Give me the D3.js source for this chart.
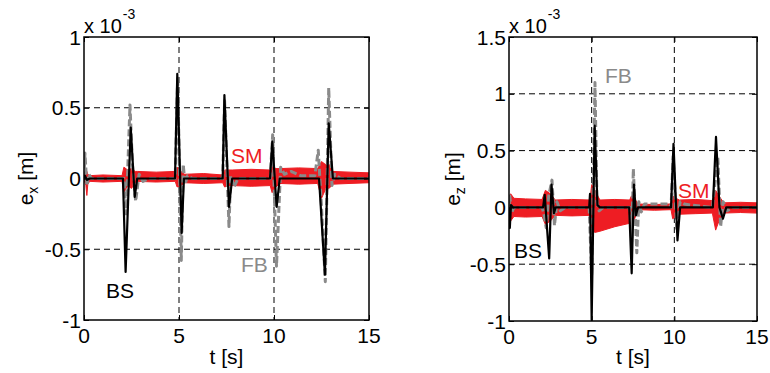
<!DOCTYPE html>
<html>
<head>
<meta charset="utf-8">
<script src="https://cdn.jsdelivr.net/npm/d3@7/dist/d3.min.js"></script>
<style>
  html, body { margin: 0; padding: 0; background: #fff; }
  svg { display: block; font-family: "Liberation Sans", Arial, Helvetica, sans-serif; }
</style>
</head>
<body>
<svg id="chart" width="770" height="373"></svg>
<script>
// Tracking error (x 10^-3 m) of three controllers: BS, FB and SM.

// ---- e_x panel ----
const tBSx = [0, 0.05, 0.15, 0.3, 2.05, 2.19, 2.46, 2.67, 2.8, 4.79, 4.91, 5.14, 5.26, 7.3, 7.39, 7.63, 7.8, 9.79, 9.91, 10.14, 10.3, 12.37, 12.68, 12.88, 13.1, 15];
const vBSx = [0, 0.02, -0.01, 0, 0, -0.66, 0.36, -0.13, 0, 0, 0.74, -0.385, 0, 0, 0.59, -0.2, 0, 0, 0.26, -0.2, 0, 0, -0.68, 0.39, 0, 0];

const tFBx = [0, 0.05, 0.15, 0.25, 0.4, 2.1, 2.22, 2.42, 2.55, 2.72, 2.9, 3.1, 3.4, 4.8, 4.93, 5.12, 5.22, 5.32, 5.45, 5.7, 7.3, 7.4, 7.63, 7.72, 7.9, 8.1, 9.8, 9.93, 10.13, 10.35, 10.55, 10.9, 11.4, 12.15, 12.33, 12.5, 12.7, 12.88, 13.05, 13.2, 13.5, 15];
const vFBx = [0, 0.18, -0.05, 0.03, 0, 0, -0.25, 0.52, 0.1, -0.16, 0.03, -0.02, 0, 0, 0.72, -0.58, 0.1, -0.04, 0.02, 0, 0, 0.55, -0.34, 0.02, -0.06, 0, 0, 0.31, -0.62, 0.08, 0.03, 0.05, 0.02, 0.02, 0.2, -0.2, -0.73, 0.64, -0.05, 0.03, 0, 0];

const tSMx  = [0, 0.1, 0.15, 0.2, 0.3, 1.0, 2.0, 2.1, 2.3, 2.5, 2.7, 2.8, 3.8, 4.8, 4.9, 5.1, 5.3, 6.3, 7.3, 7.4, 7.6, 7.8, 8.8, 9.8, 9.9, 10.1, 10.3, 11.3, 12.3, 12.5, 12.7, 12.9, 13.1, 14.0, 15];
const hiSMx = [0.01, 0.06, 0.05, 0.03, 0.02, 0.025, 0.02, 0.08, 0.06, 0.07, 0.05, 0.05, 0.045, 0.05, 0.08, 0.05, 0.03, 0.035, 0.025, 0.06, 0.06, 0.06, 0.065, 0.06, 0.09, 0.07, 0.07, 0.075, 0.07, 0.12, 0.1, 0.1, 0.05, 0.045, 0.04];
const loSMx = [-0.01, -0.05, -0.12, -0.04, -0.02, -0.025, -0.02, -0.1, -0.05, -0.07, -0.03, -0.02, -0.025, -0.02, -0.06, -0.05, -0.03, -0.035, -0.03, -0.06, -0.05, -0.05, -0.055, -0.05, -0.1, -0.06, -0.035, -0.04, -0.035, -0.14, -0.08, -0.07, -0.04, -0.035, -0.03];

// ---- e_z panel ----
const tBSz = [0, 0.05, 0.12, 0.25, 2.06, 2.16, 2.43, 2.57, 2.72, 2.82, 4.85, 4.9, 5.0, 5.18, 5.35, 5.5, 7.27, 7.42, 7.56, 7.68, 7.8, 9.8, 9.95, 10.19, 10.35, 12.33, 12.52, 12.62, 12.73, 12.94, 13.14, 15];
const vBSz = [0, -0.18, 0.02, 0, 0, 0.11, -0.45, 0.2, -0.05, 0, 0, 0.12, -0.99, 0.72, 0.02, 0, 0, -0.58, 0.2, -0.07, 0, 0, 0.56, -0.29, 0, 0, 0.62, 0.33, 0.0, -0.1, 0, 0];

const tFBz = [0, 0.05, 0.15, 0.3, 2.0, 2.1, 2.25, 2.4, 2.6, 2.75, 2.9, 3.1, 3.4, 4.85, 5.0, 5.2, 5.32, 5.45, 5.7, 7.3, 7.42, 7.52, 7.73, 7.85, 8.0, 8.2, 9.7, 9.8, 9.93, 10.15, 10.35, 10.6, 11.0, 12.3, 12.45, 12.63, 12.8, 12.95, 13.2, 13.5, 15];
const vFBz = [0, 0.1, -0.05, 0, 0, -0.05, -0.18, 0.1, 0.24, -0.16, 0.05, -0.03, 0, 0, -0.6, 1.1, 0.05, -0.03, 0, 0, -0.3, 0.34, -0.4, 0.05, -0.04, 0.03, 0.03, 0, 0.45, -0.2, 0.05, 0.03, 0.02, 0, 0.2, 0.44, -0.17, 0.05, -0.03, 0, 0];

const tSMz  = [0, 0.1, 0.3, 1.0, 2.0, 2.2, 2.5, 2.8, 3.8, 4.9, 5.0, 5.2, 5.5, 6.4, 7.3, 7.4, 7.6, 7.8, 8.8, 9.8, 9.9, 10.1, 10.3, 11.3, 12.3, 12.5, 12.7, 13.0, 14.0, 15];
const hiSMz = [0.08, 0.12, 0.08, 0.075, 0.07, 0.15, 0.12, 0.065, 0.07, 0.065, 0.2, 0.15, 0.065, 0.07, 0.065, 0.1, 0.08, 0.03, 0.025, 0.03, 0.1, 0.08, 0.065, 0.07, 0.06, 0.15, 0.1, 0.04, 0.045, 0.04];
const loSMz = [-0.08, -0.12, -0.08, -0.085, -0.08, -0.15, -0.12, -0.07, -0.075, -0.07, -0.2, -0.22, -0.21, -0.17, -0.14, -0.15, -0.1, -0.02, -0.025, -0.02, -0.1, -0.08, -0.06, -0.055, -0.05, -0.2, -0.12, -0.05, -0.045, -0.05];

// Axis ticks
const xTicks  = [0, 5, 10, 15];
const yTicksX = [-1, -0.5, 0, 0.5, 1];
const yTicksZ = [-1, -0.5, 0, 0.5, 1, 1.5];
const yTickLabelsX = ["-1", "-0.5", "0", "0.5", "1"];
const yTickLabelsZ = ["-1", "-0.5", "0", "0.5", "1", "1.5"];

const RED = "#ee1d23", GRAY = "#8a8a8a", FS = 21;
const svg = d3.select("#chart");

function panel(p) {
  const x = d3.scaleLinear().domain([0, 15]).range([p.left, p.right]);
  const y = d3.scaleLinear().domain(p.ydom).range([p.bottom, p.top]);
  const g = svg.append("g");

  // clip to the axes box
  const cid = "clip-" + p.id;
  svg.append("clipPath").attr("id", cid).append("rect")
    .attr("x", p.left).attr("y", p.top)
    .attr("width", p.right - p.left).attr("height", p.bottom - p.top);

  // dashed grid
  const grid = g.append("g").attr("stroke", "#000").attr("stroke-width", 1).attr("stroke-dasharray", "6,4");
  xTicks.slice(1, -1).forEach(t => grid.append("line")
    .attr("x1", x(t)).attr("x2", x(t)).attr("y1", p.top).attr("y2", p.bottom));
  p.yticks.slice(1, -1).forEach(v => grid.append("line")
    .attr("x1", p.left).attr("x2", p.right).attr("y1", y(v)).attr("y2", y(v)));

  const plot = g.append("g").attr("clip-path", `url(#${cid})`);

  // SM: dense chattering shown as its envelope
  const sm = p.tSM.map((t, i) => ({ t, hi: p.hiSM[i], lo: p.loSM[i] }));
  plot.append("path").datum(sm)
    .attr("fill", RED).attr("stroke", RED).attr("stroke-width", 1)
    .attr("d", d3.area().x(d => x(d.t)).y0(d => y(d.lo)).y1(d => y(d.hi)));

  const line = d3.line().x(d => x(d[0])).y(d => y(d[1]));
  plot.append("path").datum(p.tFB.map((t, i) => [t, p.vFB[i]]))
    .attr("fill", "none").attr("stroke", GRAY).attr("stroke-width", 3)
    .attr("stroke-dasharray", "7,3").attr("stroke-linejoin", "round")
    .attr("d", line);
  plot.append("path").datum(p.tBS.map((t, i) => [t, p.vBS[i]]))
    .attr("fill", "none").attr("stroke", "#000").attr("stroke-width", 2.2)
    .attr("stroke-linejoin", "round").attr("d", line);

  // axes with inward ticks, mirrored on the opposite sides
  const ax = (gen, tr) => g.append("g").attr("transform", tr).call(gen)
    .call(s => s.select(".domain").remove())
    .call(s => s.selectAll("line").attr("stroke", "#000").attr("stroke-width", 1));
  ax(d3.axisBottom(x).tickValues(xTicks).tickSize(-5).tickFormat(""), `translate(0,${p.bottom})`);
  ax(d3.axisTop(x).tickValues(xTicks).tickSize(-5).tickFormat(""), `translate(0,${p.top})`);
  ax(d3.axisLeft(y).tickValues(p.yticks).tickSize(-5).tickFormat(""), `translate(${p.left},0)`);
  ax(d3.axisRight(y).tickValues(p.yticks).tickSize(-5).tickFormat(""), `translate(${p.right},0)`);

  g.append("rect").attr("x", p.left).attr("y", p.top)
    .attr("width", p.right - p.left).attr("height", p.bottom - p.top)
    .attr("fill", "none").attr("stroke", "#000").attr("stroke-width", 1.5);

  // tick labels
  const lab = g.append("g").attr("font-size", FS).attr("fill", "#000");
  xTicks.forEach(t => lab.append("text").attr("x", x(t)).attr("y", p.bottom + 23)
    .attr("text-anchor", "middle").text(t));
  p.yticks.forEach((v, i) => lab.append("text").attr("x", p.left - 3).attr("y", y(v) + 7.5)
    .attr("text-anchor", "end").text(p.ylabels[i]));

  // exponent
  const ex = lab.append("text").attr("x", p.left).attr("y", 33).attr("font-size", 20);
  ex.append("tspan").text("x 10");
  ex.append("tspan").attr("font-size", 14).attr("dy", -14).attr("dx", 1).text("-3");

  // axis titles
  lab.append("text").attr("x", (p.left + p.right) / 2).attr("y", 364)
    .attr("text-anchor", "middle").text("t [s]");
  const yt = lab.append("text")
    .attr("transform", `translate(${p.ytitleX},${(p.top + p.bottom) / 2}) rotate(-90)`)
    .attr("text-anchor", "middle");
  yt.append("tspan").text("e");
  yt.append("tspan").attr("font-size", 14).attr("dy", 5).text(p.sub);
  yt.append("tspan").attr("dy", -5).text(" [m]");

  // series labels
  p.names.forEach(n => lab.append("text").attr("x", n.x).attr("y", n.y)
    .attr("fill", n.c).text(n.s));
}

panel({
  id: "ex", left: 84, right: 369, top: 37, bottom: 320, ydom: [-1, 1],
  yticks: yTicksX, ylabels: yTickLabelsX, sub: "x", ytitleX: 33,
  tBS: tBSx, vBS: vBSx, tFB: tFBx, vFB: vFBx, tSM: tSMx, hiSM: hiSMx, loSM: loSMx,
  names: [{ s: "SM", x: 231, y: 163, c: RED }, { s: "FB", x: 241, y: 272, c: GRAY }, { s: "BS", x: 106, y: 298, c: "#000" }]
});
panel({
  id: "ez", left: 509, right: 757, top: 37, bottom: 321, ydom: [-1, 1.5],
  yticks: yTicksZ, ylabels: yTickLabelsZ, sub: "z", ytitleX: 460,
  tBS: tBSz, vBS: vBSz, tFB: tFBz, vFB: vFBz, tSM: tSMz, hiSM: hiSMz, loSM: loSMz,
  names: [{ s: "FB", x: 605, y: 83, c: GRAY }, { s: "SM", x: 678, y: 198, c: RED }, { s: "BS", x: 514, y: 258, c: "#000" }]
});
</script>
</body>
</html>
